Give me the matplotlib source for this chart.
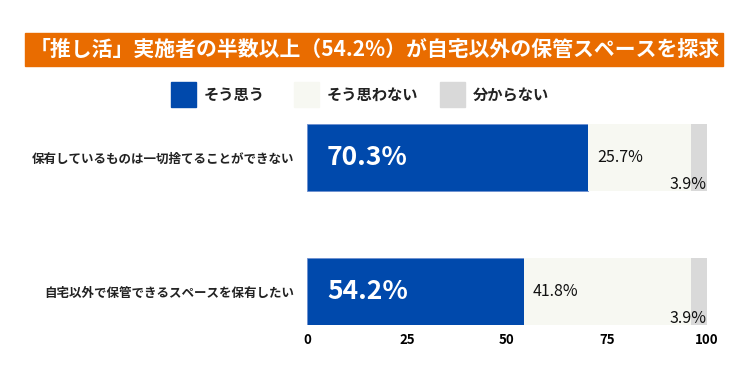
import matplotlib.pyplot as plt
from matplotlib.patches import Rectangle

plt.rcParams['font.family'] = ['Noto Sans CJK JP', 'DejaVu Sans']

title = "「推し活」実施者の半数以上（54.2%）が自宅以外の保管スペースを探求"
categories = ["保有しているものは一切捨てることができない", "自宅以外で保管できるスペースを保有したい"]
series_names = ["そう思う", "そう思わない", "分からない"]
yes = [70.3, 54.2]
no = [25.7, 41.8]
unknown = [3.9, 3.9]
colors = ["#0049AC", "#F7F8F2", "#D9D9D9"]
ticks = [0, 25, 50, 75, 100]

fig = plt.figure(figsize=(7.5, 3.78), dpi=100)

# title banner
fig.patches.append(Rectangle((25 / 750, 1 - 66 / 378), 698 / 750, 33 / 378,
                             transform=fig.transFigure, color="#E96C00", zorder=0))
fig.text(375 / 750, 1 - 49.5 / 378, title, color="white", fontsize=15,
         fontweight="bold", ha="center", va="center")

# legend
legend_x = [171, 294, 440]
for x, name, c in zip(legend_x, series_names, colors):
    fig.patches.append(Rectangle((x / 750, 1 - 107 / 378), 25 / 750, 25 / 378,
                                 transform=fig.transFigure, color=c))
    fig.text((x + 33) / 750, 1 - 95 / 378, name, fontsize=11, fontweight="bold",
             ha="left", va="center", color="#222222")

ax = fig.add_axes([307 / 750, 1 - 325 / 378, 400 / 750, 201 / 378])
ypos = list(range(len(categories)))
h = 0.5
left2 = [a for a in yes]
left3 = [a + b for a, b in zip(yes, no)]
ax.barh(ypos, yes, height=h, color=colors[0], edgecolor="#6E8FD0", linewidth=0.6)
ax.barh(ypos, no, left=left2, height=h, color=colors[1])
ax.barh(ypos, unknown, left=left3, height=h, color=colors[2])

for i in ypos:
    ax.text(5, i, f"{yes[i]}%", color="white", fontsize=19, fontweight="bold",
            ha="left", va="center")
    ax.text(left2[i] + 2.2, i, f"{no[i]}%", color="#111111", fontsize=11.5,
            ha="left", va="center")
    ax.text(100, i + 0.2, f"{unknown[i]}%", color="#111111", fontsize=11.5,
            ha="right", va="center")

ax.set_xlim(0, 100)
ax.set_ylim(1.25, -0.25)
ax.set_xticks(ticks)
ax.set_xticklabels([str(t) for t in ticks], fontsize=9.5, fontweight="bold")
ax.set_yticks(ypos)
ax.set_yticklabels(categories, fontsize=9, fontweight="bold", color="#222222")
ax.tick_params(length=0, pad=9)
ax.tick_params(axis="x", pad=6)
for s in ax.spines.values():
    s.set_visible(False)

fig.savefig("out.png", dpi=100)
